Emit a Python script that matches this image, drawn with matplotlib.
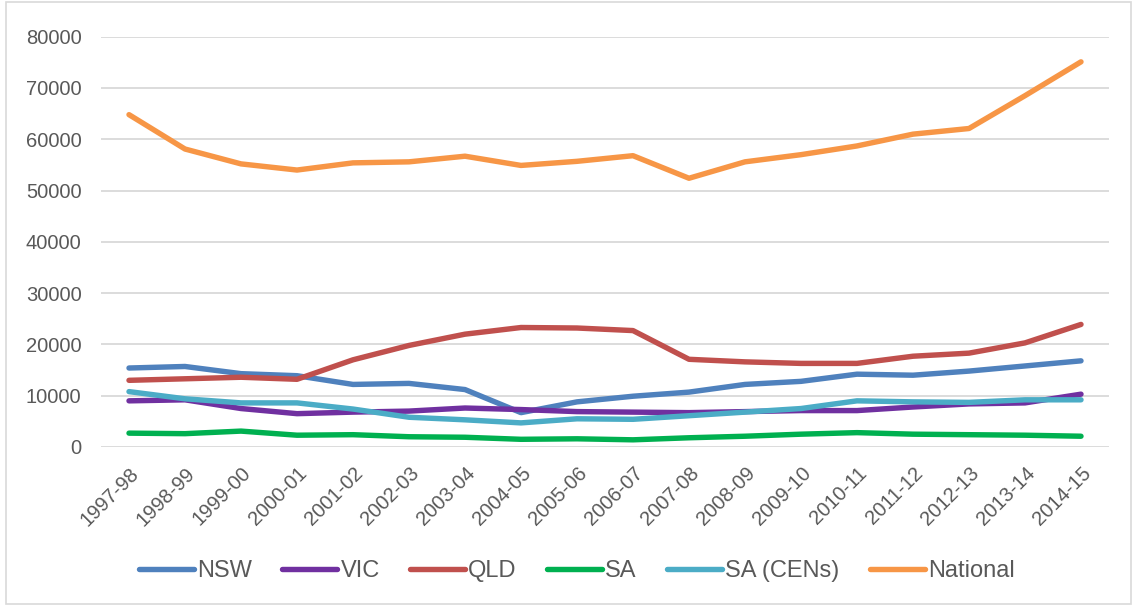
import matplotlib.pyplot as plt
from matplotlib.patches import Rectangle

years = ["1997-98", "1998-99", "1999-00", "2000-01", "2001-02", "2002-03",
         "2003-04", "2004-05", "2005-06", "2006-07", "2007-08", "2008-09",
         "2009-10", "2010-11", "2011-12", "2012-13", "2013-14", "2014-15"]

nsw = [15400, 15700, 14300, 13900, 12200, 12400, 11200, 6700, 8800, 9900,
       10700, 12200, 12800, 14200, 14000, 14800, 15800, 16800]
vic = [9000, 9200, 7500, 6500, 6800, 7000, 7600, 7300, 6900, 6800,
       6700, 6900, 7100, 7100, 7800, 8400, 8600, 10300]
qld = [13000, 13300, 13600, 13200, 17000, 19800, 22000, 23300, 23200, 22700,
       17100, 16600, 16300, 16300, 17700, 18300, 20300, 23900]
sa = [2700, 2600, 3100, 2300, 2400, 2000, 1900, 1500, 1600, 1400,
      1800, 2100, 2500, 2800, 2500, 2400, 2300, 2100]
sa_cens = [10800, 9400, 8600, 8600, 7400, 5800, 5300, 4700, 5500, 5400,
           6100, 6800, 7500, 9000, 8800, 8700, 9200, 9200]
national = [64800, 58100, 55200, 54000, 55400, 55600, 56700, 54900, 55700, 56800,
            52400, 55600, 57000, 58700, 61000, 62100, 68500, 75100]

series = [("NSW", nsw, "#4F81BD"), ("VIC", vic, "#7030A0"), ("QLD", qld, "#C0504D"),
          ("SA", sa, "#00B050"), ("SA (CENs)", sa_cens, "#4BACC6"),
          ("National", national, "#F79646")]

plt.rcParams['font.family'] = ['Liberation Sans', 'DejaVu Sans']

fig = plt.figure(figsize=(11.38, 6.06), dpi=100)
# thin chart-area border
fig.patches.append(Rectangle((6 / 1138, 2 / 606), 1125 / 1138, 602 / 606,
                             transform=fig.transFigure, fill=False,
                             edgecolor="#D9D9D9", lw=1.2))
ax = fig.add_axes([101 / 1138, 1 - 447 / 606, 1008 / 1138, 410.3 / 606])

x = list(range(len(years)))
for name, vals, col in series:
    ax.plot(x, vals, color=col, lw=3.9, solid_capstyle="round",
            solid_joinstyle="round", label=name)

ax.set_xlim(-0.5, len(years) - 0.5)
ax.set_ylim(0, 80000)
ax.set_yticks(range(0, 80001, 10000))
ax.set_xticks(x)
ax.set_xticklabels(years, rotation=45, ha="right", rotation_mode="anchor")
ax.grid(axis="y", color="#D9D9D9", lw=1.3)
ax.set_axisbelow(True)
for s in ax.spines.values():
    s.set_visible(False)
ax.tick_params(length=0, labelsize=14.5, colors="#595959")
ax.tick_params(axis="y", pad=14)
ax.tick_params(axis="x", pad=12)

leg = ax.legend(loc="center", bbox_to_anchor=(0.472, -0.302), ncol=6,
                frameon=False, fontsize=17, handlelength=2.33,
                handletextpad=0.15, columnspacing=1.27)
for t in leg.get_texts():
    t.set_color("#595959")

fig.savefig("out.png", dpi=100)
